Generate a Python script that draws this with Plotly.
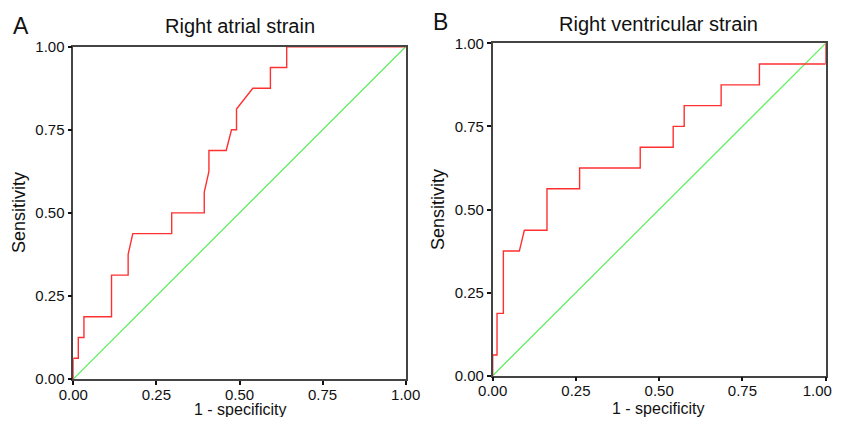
import plotly.graph_objects as go

# Panel A: Right atrial strain ROC curve (1 - specificity, sensitivity)
fpr_a = [0, 0, 0.015, 0.015, 0.032, 0.032, 0.115, 0.115, 0.165, 0.165, 0.179,
         0.296, 0.296, 0.394, 0.394, 0.408, 0.408, 0.460, 0.476, 0.491, 0.491,
         0.540, 0.593, 0.593, 0.642, 0.642, 1.0]
tpr_a = [0, 0.0625, 0.0625, 0.125, 0.125, 0.1875, 0.1875, 0.3125, 0.3125, 0.375, 0.4375,
         0.4375, 0.5, 0.5, 0.5625, 0.625, 0.6875, 0.6875, 0.75, 0.75, 0.8125,
         0.875, 0.875, 0.9375, 0.9375, 1.0, 1.0]

# Panel B: Right ventricular strain ROC curve
fpr_b = [0, 0, 0.013, 0.013, 0.032, 0.032, 0.080, 0.095, 0.163, 0.163, 0.261, 0.261,
         0.443, 0.443, 0.542, 0.542, 0.575, 0.575, 0.686, 0.686, 0.801, 0.801, 1.0, 1.0]
tpr_b = [0, 0.0625, 0.0625, 0.1875, 0.1875, 0.375, 0.375, 0.4375, 0.4375, 0.5625, 0.5625, 0.625,
         0.625, 0.6875, 0.6875, 0.75, 0.75, 0.8125, 0.8125, 0.875, 0.875, 0.9375, 0.9375, 1.0]

ref_line = [0, 1]
tick_vals = [0, 0.25, 0.5, 0.75, 1.0]
tick_text = ["0.00", "0.25", "0.50", "0.75", "1.00"]
# last x label of panel B padded (invisible suffix) so it stays inside the window
tick_text_bx = ["0.00", "0.25", "0.50", "0.75", "1.00<span style='color:rgba(0,0,0,0)'>00</span>"]
titles = ["Right atrial strain", "Right ventricular strain"]
letters = ["A", "B"]
x_title = "1 - specificity"
y_title = "Sensitivity"

FONT = "Liberation Sans, Arial, sans-serif"
RED = "#ff3030"
GREEN = "#55f055"

# page has an 8px body margin; figure sized to fit the window
OFF = 8
W, H = 841 - 2 * OFF, 425 - 2 * OFF


def px(x):
    return (x - OFF) / W


def py(y):
    return 1 - (y - OFF) / H


fig = go.Figure()

panels = [
    dict(fpr=fpr_a, tpr=tpr_a, xa="x", ya="y", xd=[px(73.3), px(405.7)], yd=[py(379), py(46.7)],
         xt=tick_text),
    dict(fpr=fpr_b, tpr=tpr_b, xa="x2", ya="y2", xd=[px(492.7), px(825.7)], yd=[py(375.7), py(43.3)],
         xt=tick_text_bx),
]

for i, p in enumerate(panels):
    fig.add_trace(go.Scatter(x=ref_line, y=ref_line, mode="lines", xaxis=p["xa"], yaxis=p["ya"],
                             line=dict(color=GREEN, width=1.2), cliponaxis=False, showlegend=False,
                             hoverinfo="skip"))
    fig.add_trace(go.Scatter(x=p["fpr"], y=p["tpr"], mode="lines", xaxis=p["xa"], yaxis=p["ya"],
                             line=dict(color=RED, width=1.4), cliponaxis=False, showlegend=False))
    sfx = "" if i == 0 else "2"
    axis_common = dict(range=[0, 1], tickvals=tick_vals, ticks="outside",
                       ticklen=4, tickwidth=2, tickcolor="#111", showline=True, linecolor="#444",
                       mirror=True, linewidth=1.5, showgrid=False, zeroline=False, automargin=False,
                       tickfont=dict(family=FONT, size=15, color="#111"))
    fig.update_layout(**{
        "xaxis" + sfx: dict(domain=p["xd"], anchor="y" + sfx, ticktext=p["xt"],
                            ticklabelstandoff=-3, ticklabeloverflow="allow", **axis_common),
        "yaxis" + sfx: dict(domain=p["yd"], anchor="x" + sfx, ticktext=tick_text, **axis_common),
    })

ann = [
    (letters[0], 21, 26, 23, 0),
    (letters[1], 440, 22, 23, 0),
    (titles[0], 240, 26, 20, 0),
    (titles[1], 658, 24, 20, 0),
    (x_title, 240, 409, 16, 0),
    (x_title, 658, 408, 16, 0),
    (y_title, 19, 213, 18, -90),
    (y_title, 438, 210, 18, -90),
]
for text, x, y, size, ang in ann:
    fig.add_annotation(text=text, x=px(x), y=py(y), xref="paper", yref="paper",
                       xanchor="center", yanchor="middle", showarrow=False, textangle=ang,
                       font=dict(family=FONT, size=size, color="#111"))

fig.update_layout(template="none", width=W, height=H,
                  margin=dict(l=0, r=0, t=0, b=0, autoexpand=False),
                  paper_bgcolor="white", plot_bgcolor="white", showlegend=False)

fig.write_html("out.html")
